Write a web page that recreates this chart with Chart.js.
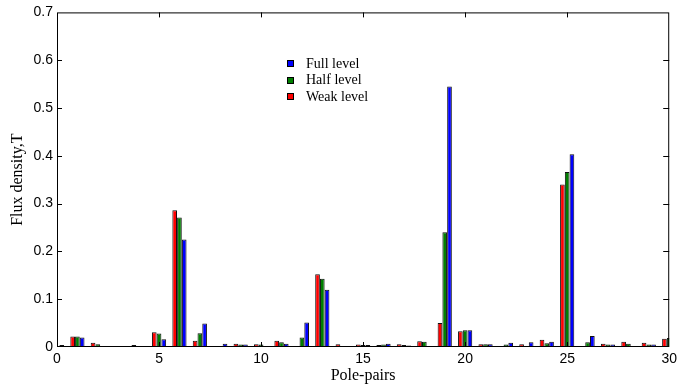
<!DOCTYPE html>
<html>
<head>
<meta charset="utf-8">
<script src="https://cdn.jsdelivr.net/npm/chart.js@4.4.1/dist/chart.umd.min.js"></script>
<style>
    html, body { margin: 0; padding: 0; background: #fff; }
    #wrap { position: relative; width: 681px; height: 391px; }
</style>
</head>
<body>
<div id="wrap"><canvas id="grafico-flujo" width="681" height="391"></canvas></div>
<script>
// Datos (densidad de flujo por par de polos)
const polePairs = [0, 1, 2, 3, 4, 5, 6, 7, 8, 9, 10, 11, 12, 13, 14, 15,
                   16, 17, 18, 19, 20, 21, 22, 23, 24, 25, 26, 27, 28, 29, 30];
const weakLevel = [0, 0.022, 0.009, 0.002, 0.004, 0.031, 0.286, 0.013, 0.001, 0.007, 0.006,
                   0.013, 0.002, 0.152, 0.006, 0.005, 0.004, 0.006, 0.012, 0.050, 0.033,
                   0.006, 0.001, 0.006, 0.015, 0.340, 0.001, 0.007, 0.011, 0.009, 0.017];
const halfLevel = [0, 0.022, 0.006, 0.002, 0.002, 0.028, 0.271, 0.029, 0.002, 0.005, 0.005,
                   0.010, 0.020, 0.143, 0.002, 0.004, 0.005, 0.004, 0.011, 0.240, 0.035,
                   0.006, 0.005, 0.002, 0.008, 0.366, 0.010, 0.005, 0.007, 0.005, 0.019];
const fullLevel = [0.004, 0.020, 0.001, 0.001, 0.001, 0.016, 0.225, 0.049, 0.007, 0.005, 0.001,
                   0.007, 0.051, 0.120, 0.002, 0.004, 0.007, 0.003, 0.002, 0.545, 0.035,
                   0.006, 0.009, 0.010, 0.011, 0.403, 0.023, 0.005, 0.002, 0.005, 0.020];
const xTicks = [0, 5, 10, 15, 20, 25, 30];
const yTicks = [0, 0.1, 0.2, 0.3, 0.4, 0.5, 0.6, 0.7];

const serif = "'Liberation Serif', 'Times New Roman', serif";
const sans = "'Liberation Sans', Arial, sans-serif";

Chart.defaults.font.family = sans;
Chart.defaults.color = '#000';

// Función para armar los puntos {x, y}
function puntos(valores) {
    return polePairs.map((p, i) => ({ x: p, y: valores[i] }));
}

// Marco, marcas hacia dentro y leyenda
const marcoPlugin = {
    id: 'marco',
    afterDatasetsDraw(chart) {
        const { ctx, chartArea: a, scales: { x, y } } = chart;
        ctx.save();
        ctx.strokeStyle = '#000';
        ctx.lineWidth = 1;
        ctx.strokeRect(a.left + 0.5, a.top + 0.5, a.right - a.left - 1, a.bottom - a.top - 1);

        xTicks.slice(1, -1).forEach(v => {
            const px = Math.round(x.getPixelForValue(v)) + 0.5;
            ctx.beginPath();
            ctx.moveTo(px, a.bottom); ctx.lineTo(px, a.bottom - 5);
            ctx.moveTo(px, a.top); ctx.lineTo(px, a.top + 5);
            ctx.stroke();
        });
        yTicks.slice(1, -1).forEach(v => {
            const py = Math.round(y.getPixelForValue(v)) + 0.5;
            ctx.beginPath();
            ctx.moveTo(a.left, py); ctx.lineTo(a.left + 5, py);
            ctx.moveTo(a.right, py); ctx.lineTo(a.right - 6, py);
            ctx.stroke();
        });

        // Leyenda (orden inverso: Full, Half, Weak)
        const items = chart.data.datasets.slice().reverse();
        ctx.font = '14px ' + serif;
        ctx.textBaseline = 'middle';
        items.forEach((ds, i) => {
            const cy = 63 + i * 16.5;
            ctx.fillStyle = ds.backgroundColor;
            ctx.fillRect(287.5, Math.round(cy) - 2.5, 6, 6);
            ctx.strokeRect(287.5, Math.round(cy) - 2.5, 6, 6);
            ctx.fillStyle = '#000';
            ctx.fillText(ds.label, 306, cy + 1);
        });
        ctx.restore();
    }
};

const ctxFlujo = document.getElementById('grafico-flujo');
new Chart(ctxFlujo, {
    type: 'bar',
    data: {
        datasets: [
            { label: 'Weak level', data: puntos(weakLevel), backgroundColor: '#ff0000' },
            { label: 'Half level', data: puntos(halfLevel), backgroundColor: '#007f00' },
            { label: 'Full level', data: puntos(fullLevel), backgroundColor: '#0000ff' }
        ]
    },
    options: {
        responsive: false,
        animation: false,
        devicePixelRatio: 1,
        layout: { padding: { top: 10, right: 9, left: 0, bottom: 0 } },
        datasets: {
            bar: {
                borderColor: '#111',
                borderWidth: 1,
                categoryPercentage: 0.7,
                barPercentage: 0.98
            }
        },
        plugins: {
            legend: { display: false },
            tooltip: { enabled: false }
        },
        scales: {
            x: {
                type: 'linear',
                offset: false,
                min: 0,
                max: 30,
                grid: { display: false, drawTicks: false },
                border: { display: false },
                ticks: {
                    stepSize: 5,
                    padding: 4,
                    maxRotation: 0,
                    font: { size: 14 }
                },
                title: {
                    display: true,
                    text: 'Pole-pairs',
                    font: { family: serif, size: 16 },
                    padding: { top: 0, bottom: 6 }
                },
                afterFit(scale) { scale.height = 44; }
            },
            y: {
                min: 0,
                max: 0.7,
                grid: { display: false, drawTicks: false },
                border: { display: false },
                ticks: {
                    stepSize: 0.1,
                    padding: 4,
                    font: { size: 14 },
                    callback: v => String(+v.toFixed(1))
                },
                title: {
                    display: true,
                    text: 'Flux density,T',
                    font: { family: serif, size: 16 },
                    padding: { top: 8, bottom: 0 }
                },
                afterFit(scale) { scale.width = 57; }
            }
        }
    },
    plugins: [marcoPlugin]
});
</script>
</body>
</html>
